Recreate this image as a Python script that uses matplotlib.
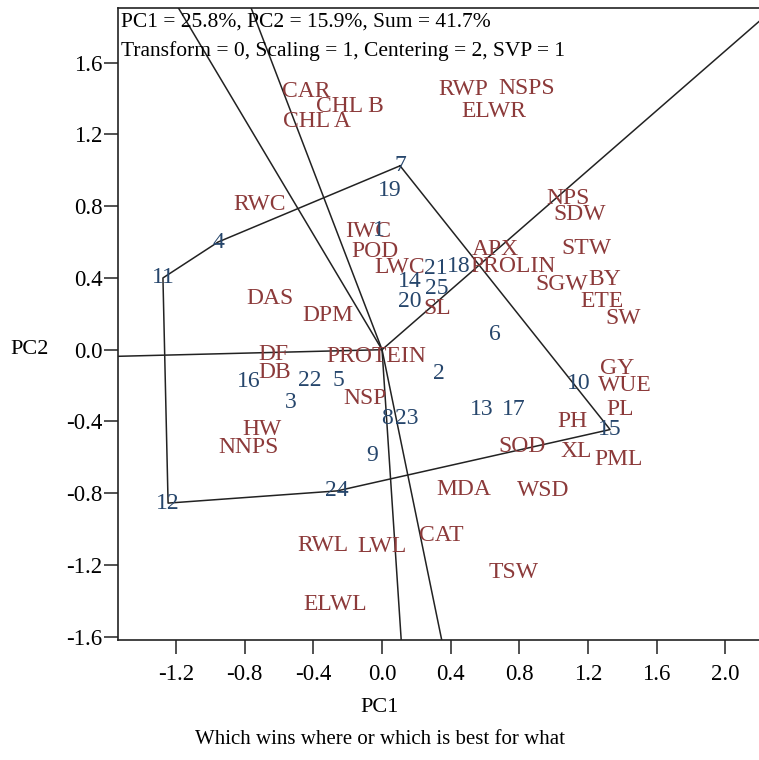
import numpy as np
import matplotlib.pyplot as plt

plt.rcParams['font.family'] = ['Liberation Serif', 'DejaVu Serif']
plt.rcParams['axes.unicode_minus'] = False

# genotype scores (PC1, PC2)
gen_names = ['1', '2', '3', '4', '5', '6', '7', '8', '9', '10', '11', '12', '13',
             '14', '15', '16', '17', '18', '19', '20', '21', '22', '23', '24', '25']
gen_pc1 = [-0.017, 0.334, -0.530, -0.956, -0.255, 0.659, 0.105, 0.027, -0.060, 1.144,
           -1.277, -1.247, 0.581, 0.163, 1.329, -0.779, 0.765, 0.445, 0.043, 0.163,
           0.315, -0.420, 0.144, -0.262, 0.319]
gen_pc2 = [0.665, -0.132, -0.295, 0.600, -0.169, 0.082, 1.025, -0.382, -0.587, -0.187,
           0.400, -0.855, -0.336, 0.379, -0.445, -0.178, -0.336, 0.463, 0.890, 0.268,
           0.455, -0.169, -0.382, -0.787, 0.342]

# trait scores (PC1, PC2)
trait_names = ['CAR', 'CHL B', 'CHL A', 'RWP', 'NSPS', 'ELWR', 'RWC', 'IWC', 'POD', 'LWC',
               'APX', 'PROLIN', 'NPS', 'SDW', 'STW', 'SGW', 'BY', 'ETE', 'SW', 'SL',
               'DAS', 'DPM', 'DF', 'PROTEIN', 'DB', 'NSP', 'HW', 'NNPS', 'GY', 'WUE',
               'PL', 'PH', 'SOD', 'XL', 'PML', 'MDA', 'WSD', 'CAT', 'RWL', 'LWL',
               'TSW', 'ELWL']
trait_pc1 = [-0.439, -0.186, -0.381, 0.474, 0.843, 0.649, -0.711, -0.080, -0.041, 0.105,
             0.659, 0.765, 1.086, 1.154, 1.193, 1.047, 1.300, 1.280, 1.406, 0.319,
             -0.653, -0.313, -0.633, -0.031, -0.624, -0.099, -0.701, -0.779, 1.368, 1.416,
             1.387, 1.111, 0.814, 1.134, 1.377, 0.474, 0.940, 0.348, -0.342, -0.002,
             0.765, -0.274]
trait_pc2 = [1.438, 1.358, 1.271, 1.448, 1.457, 1.327, 0.807, 0.658, 0.546, 0.458,
             0.556, 0.463, 0.844, 0.751, 0.565, 0.361, 0.389, 0.268, 0.175, 0.231,
             0.287, 0.193, -0.024, -0.039, -0.128, -0.271, -0.444, -0.544, -0.104, -0.197,
             -0.336, -0.401, -0.541, -0.569, -0.611, -0.778, -0.782, -1.038, -1.089, -1.098,
             -1.243, -1.418]

# vertex genotypes of the polygon, in order
hull = ['7', '4', '11', '12', '24', '15']

header = ['PC1 = 25.8%, PC2 = 15.9%, Sum = 41.7%',
          'Transform = 0, Scaling = 1, Centering = 2, SVP = 1']

trait_col = '#8c3a3a'
gen_col = '#26466c'
line_col = '#222222'

fig = plt.figure(figsize=(7.59, 7.60), dpi=100)
ax = fig.add_axes([0.1559, 0.1579, 0.8441, 0.8312])
ax.set_xlim(-1.537, 2.197)
ax.set_ylim(-1.618, 1.903)

# polygon
idx = [gen_names.index(h) for h in hull]
px = np.array([gen_pc1[i] for i in idx])
py = np.array([gen_pc2[i] for i in idx])
ax.plot(np.append(px, px[0]), np.append(py, py[0]), color=line_col, lw=1.1)

# rays from origin perpendicular to each polygon side
for k in range(len(px)):
    x1, y1 = px[k], py[k]
    x2, y2 = px[(k + 1) % len(px)], py[(k + 1) % len(px)]
    n = np.array([y2 - y1, -(x2 - x1)])
    if n @ np.array([x1, y1]) < 0:
        n = -n
    n = n / np.hypot(*n) * 10
    ax.plot([0, n[0]], [0, n[1]], color=line_col, lw=1.1)

for name, x, y in zip(trait_names, trait_pc1, trait_pc2):
    ax.text(x, y, name, color=trait_col, fontsize=17, ha='center', va='center')
for name, x, y in zip(gen_names, gen_pc1, gen_pc2):
    ax.text(x, y, name, color=gen_col, fontsize=17, ha='center', va='center')

ax.text(0.004, 0.993, header[0], transform=ax.transAxes, fontsize=15.5,
        ha='left', va='top')
ax.text(0.004, 0.948, header[1], transform=ax.transAxes, fontsize=15.5,
        ha='left', va='top')

ticks_x = [-1.2, -0.8, -0.4, 0.0, 0.4, 0.8, 1.2, 1.6, 2.0]
ticks_y = [-1.6, -1.2, -0.8, -0.4, 0.0, 0.4, 0.8, 1.2, 1.6]
ax.set_xticks(ticks_x)
ax.set_xticklabels([f'{t:.1f}' for t in ticks_x])
ax.set_yticks(ticks_y)
ax.set_yticklabels([f'{t:.1f}' for t in ticks_y])
ax.tick_params(length=10, width=1.1, labelsize=16.5, color=line_col)
ax.tick_params(axis='x', pad=7)
ax.tick_params(axis='y', pad=1.5)
ax.spines['right'].set_visible(False)
for s in ['left', 'bottom', 'top']:
    ax.spines[s].set_linewidth(1.2)
    ax.spines[s].set_color(line_col)

fig.text(30 / 759, 1 - 349 / 760, 'PC2', fontsize=16, ha='center', va='center')
fig.text(380 / 759, 1 - 708 / 760, 'PC1', fontsize=16, ha='center', va='center')
fig.text(380 / 759, 1 - 740 / 760, 'Which wins where or which is best for what',
         fontsize=15, ha='center', va='center')

fig.savefig('out.png', dpi=100)
